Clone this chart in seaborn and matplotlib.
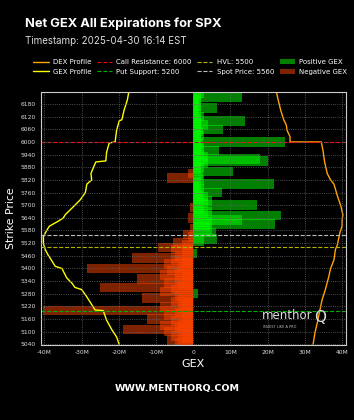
import numpy as np
import pandas as pd
import seaborn as sns
import matplotlib.pyplot as plt
from matplotlib.lines import Line2D
from matplotlib.patches import Patch

# Net GEX per strike (millions), strikes 5040..6230 every 10
strikes = np.arange(5040, 6240, 10)
gex = [
    -4, -5, -7, -3, -6, -4, -8, -19, -5, -9,            # 5040-5130
    -4, -6, -12.4, -3, -8, -5, -40.3, -4, -9, -3,       # 5140-5230
    -6, -4, -13.8, -5, 1.3, -9, -6, -25, -4, -8,        # 5240-5330
    -5, -15, -3, -9, -5, -7, -28.6, -4, -8, -3,         # 5340-5430
    -6, -16.5, -5, 1, -3, -6, -9.5, -3, -5.4, 3,        # 5440-5530
    6.5, -1.5, -2.7, 6, 5, -1, 4.5, 22, 5, 13,          # 5540-5630
    -1.5, 23.6, 4, 5, 3, -1, 17, 4, 5, 3,               # 5640-5730
    4, 2.5, 7.8, 2, 3, 1.5, 21.7, 2, 3, -7,             # 5740-5830
    2.5, -1.5, 10.7, 2, 3, 2, 4, 20, 18, 4,             # 5840-5930
    3, 2, 7, 3, 2, 2.5, 24.6, 2, 1.5, 3,                # 5940-6030
    2, 2.5, 8, 2, 4, 2, 14, 2, 3, 1.5,                  # 6040-6130
    2, 1, 6.4, 2, 1.5, 2, 1.5, 13, 2, 3,                # 6140-6230
]

# GEX profile (yellow) and DEX profile (orange), in millions
gex_prof_strikes = [5040, 5075, 5110, 5155, 5200, 5203, 5240, 5265, 5300, 5310,
                    5330, 5355, 5400, 5410, 5450, 5460, 5490, 5520, 5550, 5580,
                    5600, 5625, 5640, 5655, 5700, 5725, 5760, 5800, 5820, 5850,
                    5880, 5905, 5910, 5950, 5995, 6000, 6055, 6100, 6105, 6150,
                    6200, 6240]
gex_prof = [-19.9, -20.6, -21.9, -23.3, -24.2, -26.4, -27.7, -28.6, -30, -31.8,
            -32.6, -34, -35.3, -37.1, -38.5, -38.9, -39.8, -40.3, -40.3, -39.4,
            -38.7, -36.2, -34.9, -34.4, -31.8, -30.4, -29, -28.6, -27.3, -27.5,
            -26.8, -26.2, -23.5, -23.3, -22.6, -21, -20.6, -19.9, -19.2, -18.6,
            -17.7, -17.3]

dex_prof_strikes = [5040, 5095, 5140, 5200, 5250, 5300, 5360, 5400, 5440, 5490,
                    5510, 5570, 5600, 5630, 5655, 5700, 5740, 5800, 5820, 5850,
                    5905, 5955, 6000, 6000, 6025, 6055, 6080, 6105, 6150, 6200,
                    6240]
dex_prof = [32.2, 32.7, 33.3, 34, 34.6, 35.5, 36.4, 36.9, 37.8, 38.2,
            38.7, 39.4, 40, 40, 40.2, 39.6, 38.8, 37.8, 36.9, 36,
            35.3, 34.9, 34.4, 26, 26, 25.2, 25, 24.3, 23.5, 22.8,
            22.3]

call_resistance = 6000
put_support = 5200
hvl = 5500
spot = 5560

xticks = [-40, -30, -20, -10, 0, 10, 20, 30, 40]
xtick_labels = ['-40M', '-30M', '-20M', '-10M', '0', '10M', '20M', '30M', '40M']
yticks = np.arange(5040, 6200, 60)

df = pd.DataFrame({'strike': strikes, 'gex': gex})
df['pos'] = df['gex'].clip(lower=0)
df['neg'] = df['gex'].clip(upper=0)

sns.set_style('dark')
plt.rcParams['font.family'] = ['DejaVu Sans']

fig = plt.figure(figsize=(3.54, 4.2), dpi=100, facecolor='black')
ax = fig.add_axes([0.115, 0.1786, 0.863, 0.603])
ax.set_facecolor('black')

sns.barplot(data=df, x='pos', y='strike', orient='h', native_scale=True,
            width=4.5, color='#00ff00', saturation=1, alpha=0.5,
            errorbar=None, linewidth=0, ax=ax)
sns.barplot(data=df, x='neg', y='strike', orient='h', native_scale=True,
            width=4.5, color='#ff4500', saturation=1, alpha=0.5,
            errorbar=None, linewidth=0, ax=ax)

sns.lineplot(x=dex_prof, y=dex_prof_strikes, sort=False, estimator=None,
             color='#ffa500', linewidth=1, ax=ax)
sns.lineplot(x=gex_prof, y=gex_prof_strikes, sort=False, estimator=None,
             color='#ffff00', linewidth=1, ax=ax)

ax.axhline(call_resistance, color='#ff0000', ls='--', lw=0.8)
ax.axhline(put_support, color='#00b000', ls='--', lw=0.8)
ax.axhline(hvl, color='#b3b300', ls='--', lw=0.8)
ax.axhline(spot, color='#bbbbbb', ls='--', lw=0.8)

ax.set_xlim(-41, 41.1)
ax.set_ylim(5037, 6238)
ax.set_xticks(xticks)
ax.set_xticklabels(xtick_labels)
ax.set_yticks(yticks)
ax.tick_params(colors='#dddddd', labelsize=4.3, length=2, width=0.5, pad=1.5)
ax.grid(True, color='#666666', ls=':', lw=0.6)
ax.set_axisbelow(False)
for s in ax.spines.values():
    s.set_color('#cccccc')
    s.set_linewidth(0.8)

ax.set_xlabel('GEX', color='white', fontsize=8, labelpad=3)
ax.set_ylabel('Strike Price', color='white', fontsize=7.8, labelpad=3)

# watermark
ax.text(0.725, 0.115, 'menthor', transform=ax.transAxes, color='#dddddd',
        fontsize=8.5, va='center', ha='left')
ax.text(0.895, 0.11, 'Q', transform=ax.transAxes, color='#dddddd',
        fontsize=11, va='center', ha='left')
ax.text(0.727, 0.07, 'INVEST LIKE A PRO', transform=ax.transAxes,
        color='#bbbbbb', fontsize=2.5, va='center', ha='left')

fig.text(25 / 354, 1 - 24 / 420, 'Net GEX All Expirations for SPX',
         color='white', fontsize=9.3, fontweight='bold', family='Inter',
         va='center', ha='left')
fig.text(25 / 354, 1 - 40.5 / 420, 'Timestamp: 2025-04-30 16:14 EST',
         color='#dddddd', fontsize=7, family='Inter', va='center', ha='left')
fig.text(0.5, 1 - 388 / 420, 'WWW.MENTHORQ.COM', color='white',
         fontsize=6.8, fontweight='bold', va='center', ha='center')

handles = [
    Line2D([], [], color='#ffa500', lw=1),
    Line2D([], [], color='#ffff00', lw=1),
    Line2D([], [], color='#ff0000', ls='--', lw=0.8),
    Line2D([], [], color='#00b000', ls='--', lw=0.8),
    Line2D([], [], color='#b3b300', ls='--', lw=0.8),
    Line2D([], [], color='#bbbbbb', ls='--', lw=0.8),
    Patch(facecolor='#00ff00', edgecolor='none', alpha=0.5),
    Patch(facecolor='#ff4500', edgecolor='none', alpha=0.5),
]
labels = ['DEX Profile', 'GEX Profile', 'Call Resistance: 6000',
          'Put Support: 5200', 'HVL: 5500', 'Spot Price: 5560',
          'Positive GEX', 'Negative GEX']
leg = fig.legend(handles, labels, ncol=4, loc='center',
                 bbox_to_anchor=(0.537, 1 - 67 / 420), frameon=False,
                 fontsize=5, handlelength=2.2, columnspacing=0.8,
                 handletextpad=0.6, labelspacing=0.5)
for t in leg.get_texts():
    t.set_color('white')

fig.savefig('out.png', dpi=100, facecolor='black')
